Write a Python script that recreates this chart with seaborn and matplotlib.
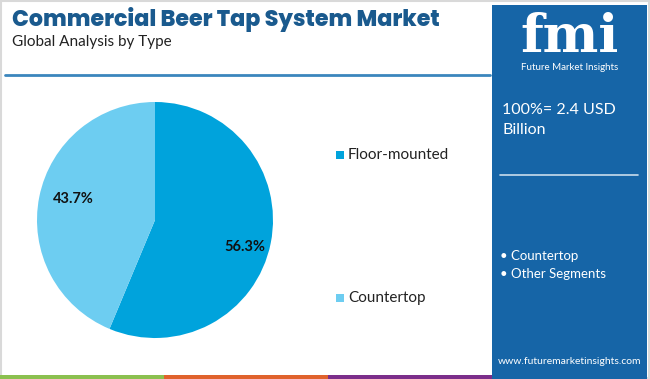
import matplotlib
matplotlib.use("Agg")
import matplotlib.pyplot as plt
import seaborn as sns
from matplotlib.patches import Rectangle

# data
segments = ["Floor-mounted", "Countertop"]
shares = [56.3, 43.7]
seg_colors = ["#00a3dc", "#6dcdf1"]
total_label = "100%= 2.4 USD\nBillion"
panel_items = ["Countertop", "Other Segments"]

sns.set_theme(style="white")
plt.rcParams["font.family"] = ["Lato", "DejaVu Sans"]

W, H = 650, 379
fig = plt.figure(figsize=(W / 100, H / 100), dpi=100, facecolor="white")


def px(x, y):
    return x / W, 1 - y / H


# outer frame
fig.patches.append(Rectangle((0.002, 0.003), 0.996, 0.994, transform=fig.transFigure,
                             fill=False, edgecolor="#d9d9d9", lw=1.5))

# title block
fig.text(*px(12, 19), "Commercial Beer Tap System Market", fontsize=16, fontweight="heavy",
         color="#1a5a8e", va="center", ha="left", family=["Poppins", "Lato", "DejaVu Sans"])
fig.text(*px(12, 42), "Global Analysis by Type", fontsize=11, color="#222222",
         va="center", ha="left")
fig.add_artist(plt.Line2D([5 / W, 490 / W], [1 - 75 / H] * 2, color="#3b86bd", lw=2,
                          transform=fig.transFigure))

# bottom stripes
for i, c in enumerate(["#8bc04f", "#e0622c", "#7b2e8a"]):
    fig.patches.append(Rectangle((i * 164 / W, 0), 164 / W, 4 / H, transform=fig.transFigure,
                                 color=c, lw=0))

# right panel
fig.patches.append(Rectangle((492 / W, 0), 155 / W, 1 - 5 / H, transform=fig.transFigure,
                             color="#1665a7", lw=0))
fig.text(*px(570, 37), "fmi", fontsize=38, fontweight="bold", color="white",
         ha="center", va="center", family=["DejaVu Serif"])
fig.text(*px(570, 67), "Future Market Insights", fontsize=7, color="white",
         ha="center", va="center")
fig.text(*px(502, 120), total_label, fontsize=11.5, color="white", ha="left", va="center",
         linespacing=1.55)
fig.add_artist(plt.Line2D([500 / W, 638 / W], [1 - 175 / H] * 2, color="#c9dcec", lw=1.2,
                          transform=fig.transFigure))
for k, item in enumerate(panel_items):
    fig.text(*px(500, 256 + k * 18), "\u2022 " + item, fontsize=9.5, color="white",
             ha="left", va="center")
fig.text(*px(570, 362), "www.futuremarketinsights.com", fontsize=7.5, color="white",
         ha="center", va="center")

# pie
ax = fig.add_axes([37 / W, (H - 338) / H, 236 / W, 236 / H])
wedges, _ = ax.pie(shares, colors=seg_colors, startangle=90, counterclock=False,
                   wedgeprops=dict(linewidth=0))
ax.set_xlim(-1, 1)
ax.set_ylim(-1, 1)
ax.set_aspect("equal")
ax.text(0.76, -0.23, f"{shares[0]}%", ha="center", va="center", fontsize=10.5,
        fontweight="bold", color="#111111")
ax.text(-0.69, 0.18, f"{shares[1]}%", ha="center", va="center", fontsize=10.5,
        fontweight="bold", color="#111111")

# legend
for (y, name, c) in [(155, segments[0], seg_colors[0]), (298, segments[1], seg_colors[1])]:
    fig.patches.append(Rectangle((336 / W, 1 - (y + 4) / H), 8 / W, 8 / H,
                                 transform=fig.transFigure, color=c, lw=0))
    fig.text(*px(348, y), name, fontsize=11, color="#222222", ha="left", va="center")

fig.savefig("out.png", dpi=100, facecolor="white")
